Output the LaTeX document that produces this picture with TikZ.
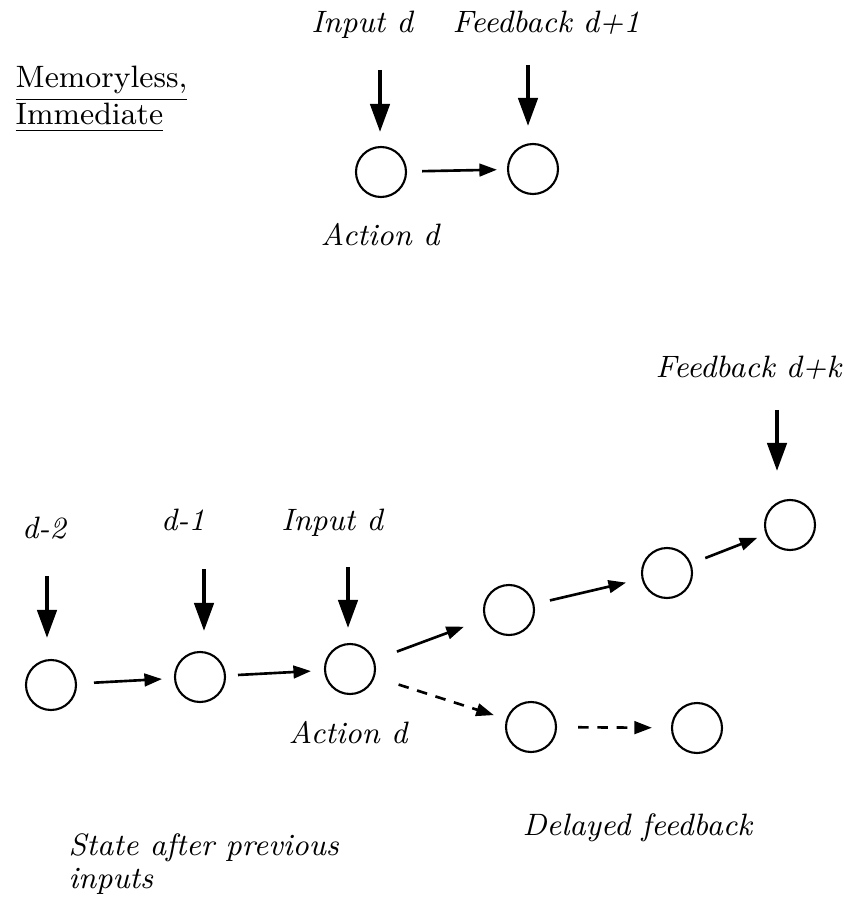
\documentclass[tikz,border=0pt]{standalone}
\usetikzlibrary{arrows.meta}

\begin{document}
\begin{tikzpicture}[
  state/.style={circle, draw, line width=0.6pt, minimum size=0.5cm, inner sep=0pt},
  lbl/.style={font=\fontsize{8.8}{10}\selectfont\itshape, anchor=base, inner sep=0pt},
  hdr/.style={font=\fontsize{8.8}{10}\selectfont, anchor=base west, inner sep=0pt},
  down/.style={-{Triangle[length=8pt,width=5.5pt]}, line width=1.1pt},
  go/.style={-{Triangle[length=5pt,width=3.6pt]}, line width=0.75pt},
  later/.style={go, dash pattern=on 3pt off 2.5pt}
]

% Frame
\useasboundingbox (0,0) rectangle (8.43,-9.01);

% Memoryless, immediate case
\node[hdr] (memo) at (0.15,-0.88) {\underline{Memoryless,}};
\node[hdr] (imm) at (0.15,-1.25) {\underline{Immediate}};

\node[state] (a0) at (3.81,-1.72) {};
\node[state] (a1) at (5.33,-1.69) {};

\node[lbl] (inA) at (3.62,-0.33) {Input d};
\node[lbl, anchor=base west] (fbA) at (4.52,-0.33) {Feedback d+1};
\node[lbl] (actA) at (3.80,-2.45) {Action d};

\coordinate (in1) at (3.80,-0.70);
\coordinate (fb1) at (5.28,-0.65);
\draw[down, shorten >=0.14cm] (in1) -- (in1 |- a0.north);
\draw[down, shorten >=0.17cm] (fb1) -- (fb1 |- a1.north);
\draw[go, shorten <=0.15cm, shorten >=0.10cm] (a0) -- (a1);

% Delayed case
\node[state] (s1) at (0.51,-6.85) {};
\node[state] (s2) at (2.00,-6.77) {};
\node[state] (s3) at (3.50,-6.69) {};
\node[state] (u1) at (5.09,-6.10) {};
\node[state] (u2) at (6.67,-5.73) {};
\node[state] (u3) at (7.90,-5.25) {};
\node[state] (w1) at (5.31,-7.27) {};
\node[state] (w2) at (6.97,-7.28) {};

\node[lbl] (dm2) at (0.44,-5.38) {d-2};
\node[lbl] (dm1) at (1.83,-5.30) {d-1};
\node[lbl] (inB) at (3.32,-5.30) {Input d};
\node[lbl] (actB) at (3.48,-7.43) {Action d};
\node[lbl, anchor=base west] (fbB) at (6.55,-3.77) {Feedback d+k};
\node[lbl, anchor=base west] (delay) at (5.22,-8.35) {Delayed feedback};
\node[lbl, anchor=base west] (prev) at (0.68,-8.55) {State after previous};
\node[lbl, anchor=base west] (prev2) at (0.68,-8.88) {inputs};

\coordinate (in2) at (0.47,-5.76);
\coordinate (in3) at (2.04,-5.69);
\coordinate (in4) at (3.48,-5.67);
\coordinate (fb2) at (7.77,-4.10);
\draw[down, shorten >=0.21cm] (in2) -- (in2 |- s1.north);
\draw[down, shorten >=0.20cm] (in3) -- (in3 |- s2.north);
\draw[down, shorten >=0.15cm] (in4) -- (in4 |- s3.north);
\draw[down, shorten >=0.28cm] (fb2) -- (fb2 |- u3.north);

\draw[go, shorten <=0.17cm, shorten >=0.12cm] (s1) -- (s2);
\draw[go, shorten <=0.12cm, shorten >=0.13cm] (s2) -- (s3);
\draw[go, shorten <=0.24cm, shorten >=0.22cm] (s3) -- (u1);
\draw[go, shorten <=0.16cm, shorten >=0.16cm] (u1) -- (u2);
\draw[go, shorten <=0.15cm, shorten >=0.09cm] (u2) -- (u3);
\draw[later, shorten <=0.25cm, shorten >=0.13cm] (s3) -- (w1);
\draw[later, shorten <=0.21cm, shorten >=0.19cm] (w1) -- (w2);

\end{tikzpicture}
\end{document}
